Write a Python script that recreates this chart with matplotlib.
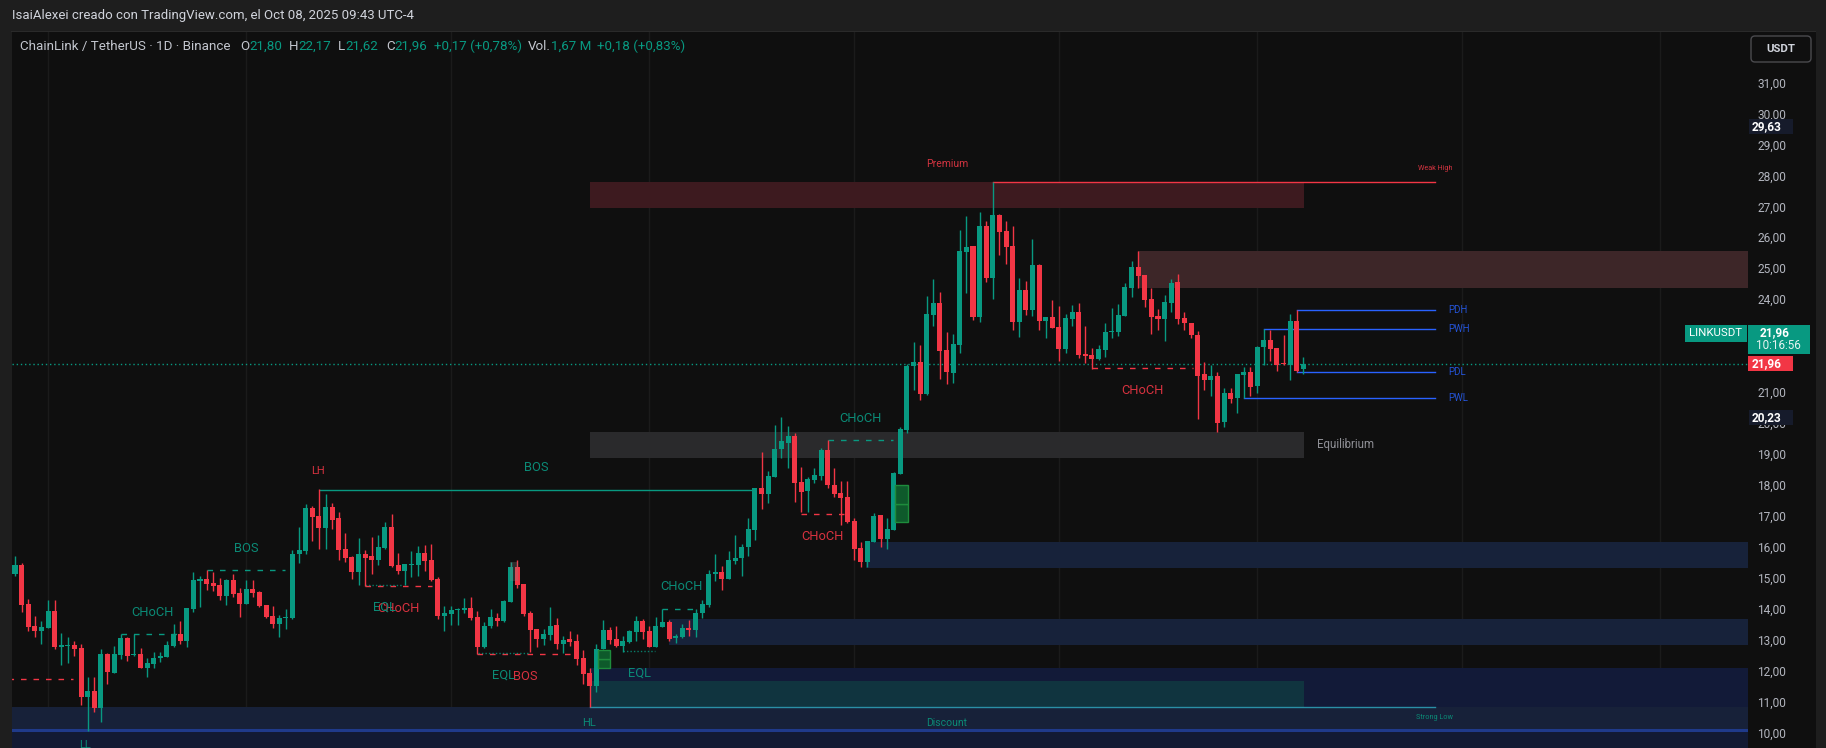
import matplotlib
matplotlib.use('Agg')
import matplotlib.pyplot as plt
from matplotlib.patches import Rectangle, FancyBboxPatch
import numpy as np

plt.rcParams['font.family'] = ['Roboto', 'DejaVu Sans']

# ---------------- data (daily candles, LINK/USDT) ----------------
opens = [15.17, 15.46, 14.20, 13.49, 13.34, 13.43, 13.97, 12.82, 12.83, 12.87,
         12.78, 11.20, 11.39, 10.85, 12.58, 11.98, 12.56, 13.10, 12.56, 12.58,
         12.14, 12.27, 12.47, 12.49, 12.85, 13.22, 13.00, 14.05, 14.95, 15.01,
         14.88, 14.81, 14.47, 14.97, 14.55, 14.21, 14.68, 14.59, 14.17, 13.81,
         13.56, 13.74, 13.74, 15.81, 15.92, 17.30, 17.04, 16.65, 17.33, 16.98,
         15.98, 15.72, 15.23, 15.81, 15.75, 15.62, 16.01, 16.69, 15.46, 15.27,
         15.46, 15.46, 15.85, 15.62, 15.01, 13.81, 13.87, 14.00, 14.02, 14.07,
         13.78, 12.82, 13.49, 13.75, 13.66, 14.27, 15.39, 14.85, 13.91, 13.39,
         13.07, 13.20, 13.52, 12.91, 13.07, 13.00, 12.45, 11.97, 11.55, 12.74,
         13.36, 13.07, 12.84, 12.97, 13.30, 13.65, 13.33, 12.81, 13.46, 13.62,
         13.09, 13.13, 13.42, 13.36, 13.90, 14.17, 15.17, 15.23, 15.01, 15.58,
         15.68, 16.04, 16.59, 17.95, 17.76, 18.30, 19.21, 19.40, 19.63, 18.15,
         17.86, 18.21, 18.33, 19.17, 18.04, 17.78, 17.66, 16.88, 16.01, 15.56,
         16.20, 17.07, 16.30, 16.59, 18.40, 19.82, 21.90, 22.02, 20.99, 23.54,
         23.92, 22.40, 21.67, 22.58, 25.58, 25.77, 23.48, 26.41, 24.74, 26.77,
         26.25, 25.77, 23.32, 24.34, 23.71, 25.15, 23.35, 23.47, 23.15, 22.45,
         23.42, 23.63, 22.29, 22.24, 22.11, 22.40, 23.00, 23.00, 23.52, 24.42,
         25.10, 24.84, 24.06, 23.51, 23.41, 23.94, 24.61, 23.45, 23.28, 22.89,
         21.63, 21.44, 21.57, 20.08, 21.02, 20.85, 21.60, 21.70, 21.24, 22.50,
         22.73, 22.47, 21.98, 21.92, 23.34, 21.80]
highs = [15.75, 15.51, 14.36, 13.81, 13.65, 14.33, 14.33, 13.25, 13.12, 13.00,
         12.90, 11.84, 11.84, 12.73, 12.60, 12.84, 13.22, 13.14, 13.22, 12.78,
         12.45, 12.65, 12.65, 12.99, 13.55, 13.65, 14.07, 15.23, 15.11, 15.29,
         15.23, 15.03, 15.02, 15.16, 14.71, 14.97, 14.97, 14.62, 14.17, 14.13,
         13.84, 14.04, 15.94, 16.69, 17.43, 17.37, 17.90, 17.75, 17.46, 17.17,
         16.49, 15.75, 16.33, 15.94, 16.36, 16.43, 16.85, 17.11, 15.85, 15.49,
         15.91, 16.07, 16.10, 16.14, 15.07, 14.13, 14.13, 14.07, 14.39, 14.42,
         13.97, 13.62, 14.04, 13.91, 14.33, 15.57, 15.62, 14.85, 13.97, 13.39,
         13.39, 14.11, 13.75, 13.17, 13.33, 13.23, 12.71, 12.13, 12.90, 13.68,
         13.46, 13.49, 13.17, 13.37, 13.81, 13.71, 13.49, 13.78, 14.04, 13.68,
         13.23, 13.55, 13.67, 14.03, 14.33, 15.30, 15.81, 15.43, 15.91, 16.43,
         16.14, 16.98, 17.95, 19.11, 18.50, 19.97, 20.24, 19.95, 19.72, 18.64,
         18.31, 18.58, 19.23, 19.50, 18.58, 18.18, 18.18, 16.97, 16.21, 16.24,
         17.13, 17.07, 16.97, 18.46, 19.93, 21.95, 22.66, 22.57, 24.15, 24.70,
         24.28, 22.99, 22.92, 26.28, 26.73, 25.77, 26.86, 26.57, 27.82, 26.80,
         26.57, 26.41, 24.73, 24.64, 25.99, 25.18, 23.47, 24.02, 23.83, 23.57,
         23.86, 23.92, 23.18, 22.47, 22.57, 23.28, 23.76, 23.89, 24.57, 25.28,
         25.60, 24.84, 24.42, 23.73, 24.18, 24.70, 24.86, 23.64, 23.28, 23.02,
         22.02, 21.92, 21.70, 21.18, 21.18, 21.63, 21.86, 21.86, 22.54, 23.08,
         23.05, 22.47, 22.89, 23.57, 23.70, 22.17]
lows = [15.11, 13.95, 13.34, 13.14, 12.92, 13.42, 12.75, 12.23, 12.30, 12.53,
        10.93, 10.10, 10.72, 10.40, 11.62, 11.98, 12.43, 12.36, 12.53, 12.14,
        11.85, 12.14, 12.34, 12.49, 12.82, 12.92, 12.82, 13.95, 14.11, 14.65,
        14.63, 14.33, 14.17, 14.43, 13.79, 14.21, 14.44, 14.11, 13.76, 13.43,
        13.14, 13.39, 13.72, 15.53, 15.81, 16.23, 15.98, 15.98, 16.62, 15.62,
        15.56, 15.01, 14.81, 14.78, 15.17, 15.46, 15.98, 15.39, 15.17, 14.81,
        15.07, 15.10, 15.27, 14.94, 13.71, 13.33, 13.52, 13.52, 13.91, 13.67,
        12.57, 12.79, 13.42, 13.49, 13.63, 14.27, 14.73, 13.81, 12.66, 12.80,
        12.87, 13.04, 12.75, 12.60, 12.84, 12.23, 11.61, 10.87, 11.37, 12.74,
        12.91, 12.81, 12.66, 12.94, 13.00, 13.07, 12.81, 12.81, 13.46, 13.00,
        12.94, 13.10, 13.17, 13.14, 13.74, 14.11, 14.95, 14.65, 15.01, 15.50,
        15.10, 15.75, 16.27, 17.28, 17.47, 18.30, 18.92, 18.59, 17.51, 17.18,
        17.18, 18.12, 18.21, 17.94, 17.67, 16.74, 16.80, 15.62, 15.38, 15.40,
        16.20, 16.05, 15.98, 16.59, 18.40, 19.73, 21.11, 20.79, 20.96, 23.18,
        21.47, 21.32, 21.35, 22.32, 24.26, 23.37, 23.32, 24.61, 24.06, 25.48,
        25.20, 23.06, 22.84, 23.55, 23.51, 23.06, 22.80, 23.13, 22.06, 22.32,
        23.18, 22.16, 22.00, 21.80, 22.08, 22.19, 22.80, 22.87, 23.52, 24.13,
        24.42, 23.80, 22.93, 23.05, 22.71, 23.64, 23.25, 23.05, 22.80, 20.19,
        21.11, 20.93, 19.76, 19.92, 20.69, 20.38, 20.85, 20.93, 21.03, 21.91,
        22.05, 21.74, 21.92, 21.44, 21.69, 21.62]
closes = [15.46, 14.17, 13.47, 13.34, 13.46, 13.97, 12.82, 12.86, 12.89, 12.76,
          11.20, 11.39, 10.85, 12.58, 12.01, 12.58, 13.10, 12.53, 12.59, 12.14,
          12.29, 12.47, 12.49, 12.86, 13.22, 13.00, 14.07, 14.97, 15.02, 14.86,
          14.78, 14.47, 14.97, 14.52, 14.21, 14.68, 14.56, 14.14, 13.79, 13.56,
          13.75, 13.76, 15.81, 15.94, 17.30, 17.01, 16.65, 17.33, 16.91, 15.94,
          15.68, 15.23, 15.81, 15.68, 15.62, 16.04, 16.69, 15.43, 15.27, 15.49,
          15.49, 15.85, 15.59, 14.97, 13.81, 13.91, 14.00, 14.04, 14.04, 13.76,
          12.82, 13.49, 13.78, 13.66, 14.30, 15.39, 14.81, 13.88, 13.36, 13.07,
          13.23, 13.49, 12.91, 13.04, 12.97, 12.43, 11.94, 11.55, 12.74, 13.36,
          13.04, 12.84, 13.00, 13.33, 13.65, 13.30, 12.81, 13.49, 13.62, 13.07,
          13.16, 13.42, 13.37, 13.90, 14.20, 15.17, 15.23, 15.01, 15.62, 15.68,
          16.04, 16.62, 17.95, 17.76, 18.33, 19.21, 19.47, 19.63, 18.12, 17.83,
          18.24, 18.37, 19.17, 18.04, 17.76, 17.63, 16.85, 15.98, 15.56, 16.23,
          17.04, 16.30, 16.62, 18.43, 19.85, 21.90, 22.02, 20.99, 23.57, 23.92,
          22.38, 21.70, 22.60, 25.60, 25.73, 23.48, 26.41, 24.74, 26.77, 26.23,
          25.73, 23.32, 24.34, 23.71, 25.15, 23.35, 23.47, 23.13, 22.45, 23.44,
          23.63, 22.24, 22.22, 22.13, 22.44, 22.99, 23.02, 23.54, 24.45, 25.10,
          24.81, 24.03, 23.48, 23.41, 23.97, 24.58, 23.41, 23.28, 22.89, 21.57,
          21.44, 21.57, 20.05, 21.02, 20.82, 21.63, 21.70, 21.21, 22.50, 22.73,
          22.44, 21.91, 21.96, 23.34, 21.73, 21.96]

price_ticks = list(range(10, 32))

# market structure events (bar index start/end, level, direction)
struct_labels = ["CHoCH", "BOS", "BOS", "CHoCH", "BOS", "CHoCH", "CHoCH", "CHoCH", "CHoCH"]
struct_start = [16.1, 29.1, 46.1, 53.0, 70.0, 98.0, 119.0, 123.0, 163.0]
struct_end = [25.6, 40.9, 111.8, 63.1, 84.5, 103.7, 125.4, 132.9, 178.3]
struct_level = [13.22, 15.29, 17.89, 14.78, 12.57, 14.03, 17.10, 19.49, 21.81]
struct_bull = [True, True, True, False, False, True, False, True, False]
struct_solid = [False, False, True, False, False, False, False, False, False]

# equal lows
eql_start = [53.0, 70.1, 92.1]
eql_end = [58.8, 77.9, 96.9]
eql_level = [14.81, 12.62, 12.67]

# previous day / week levels
pdw_names = ["PDH", "PWH", "PDL", "PWL"]
pdw_start = [194.0, 189.0, 194.0, 186.0]
pdw_level = [23.69, 23.07, 21.69, 20.84]

# swing extremes / zones
top_start, top_level = 148, 27.82       # weak high
bottom_start, bottom_level = 87, 10.87  # strong low
eq_low, eq_high = 18.93, 19.77
premium_low = 26.98
discount_high = 11.71
supply_start, supply_low, supply_high = 170.0, 24.42, 25.62
demand1_start, demand1_low, demand1_high = 128.8, 15.37, 16.20
demand2_start, demand2_low, demand2_high = 99.0, 12.88, 13.71
demand3_start, demand3_low, demand3_high = 87.0, 10.87, 12.14
old_zone_low, old_zone_high = 10.13, 10.87
old_eqh_end, old_eqh_level = 8.8, 11.77
ob_boxes = [(88.3, 90.1, 12.14, 12.42), (88.3, 90.1, 12.42, 12.71),
            (133.2, 135.2, 16.86, 17.43), (133.2, 135.2, 17.43, 18.04)]
month_bars = [5, 35, 66, 96, 127, 158, 188, 219, 249]

last_price = 21.96
tag_high, tag_low = 29.63, 20.23

# ---------------- style ----------------
GREEN = '#089981'
RED = '#f23645'
BG = '#0f0f0f'
FRAME = '#1e1e1e'
TXT_TEAL = '#0b8a76'
TXT_RED = '#d8323f'
BLUE = '#2962ff'

W, H = 1826, 748
fig = plt.figure(figsize=(W / 100, H / 100), dpi=100, facecolor=FRAME)

# price <-> pixel mapping for the chart panel
Y0_PX, Y1_PX = 32, 748
YMIN, YMAX = 9.546, 32.68
def py(p):
    return Y0_PX + (YMAX - p) / (YMAX - YMIN) * (Y1_PX - Y0_PX)

ax = fig.add_axes([12 / W, 0, (1748 - 12) / W, (Y1_PX - Y0_PX) / H])
ax.set_facecolor(BG)
ax.set_xlim(-0.454, 262.3)
ax.set_ylim(YMIN, YMAX)
for s in ax.spines.values():
    s.set_visible(False)
ax.set_xticks([])
ax.set_yticks([])

n = len(opens)
xs = np.arange(n)
o = np.array(opens); h = np.array(highs); l = np.array(lows); c = np.array(closes)
XR = ax.get_xlim()[1]

# month grid
for m in month_bars:
    ax.axvline(m, color='#1b1b1b', lw=1.0, zorder=0)

def zone(x0, x1, y0, y1, color, z=1, alpha=1.0):
    ax.add_patch(Rectangle((x0, y0), x1 - x0, y1 - y0, facecolor=color, edgecolor='none',
                           zorder=z, alpha=alpha))

last_i = n - 1
zone_end = last_i + 0.1
# bottom legacy zone (full width)
zone(-1, XR + 1, YMIN - 1, old_zone_low, '#121a33', 0.5)
zone(-1, XR + 1, old_zone_low, old_zone_high, '#172139', 0.5)
ax.plot([-1, XR + 1], [old_zone_low, old_zone_low], color='#1f3a8a', lw=2.2, zorder=0.6)
# demand zones
zone(demand3_start, XR + 1, demand3_low, demand3_high, '#121a38', 0.7)
zone(demand2_start, XR + 1, demand2_low, demand2_high, '#17223a', 0.7)
zone(demand1_start, XR + 1, demand1_low, demand1_high, '#17223a', 0.7)
# supply zone
zone(supply_start, XR + 1, supply_low, supply_high, '#3d2628', 0.7)
# premium / equilibrium / discount
zone(bottom_start, zone_end, premium_low, top_level, '#3d1a1f', 0.8)
zone(bottom_start, zone_end, eq_low, eq_high, '#2a2a2c', 0.8)
zone(bottom_start, zone_end, bottom_level, discount_high, '#10343f', 0.8)

line_end = 214.9
ax.plot([top_start, line_end], [top_level, top_level], color=RED, lw=1.0, zorder=3)
ax.plot([bottom_start, line_end], [bottom_level, bottom_level], color='#2a8fa6', lw=1.0, zorder=3)

# old equal-high dashed line at left
ax.plot([-1, old_eqh_end], [old_eqh_level] * 2, color=RED, lw=1.0, ls=(0, (4, 5)), zorder=3)

# structure lines + labels
for lab, x0, x1, lev, bull, solid in zip(struct_labels, struct_start, struct_end,
                                         struct_level, struct_bull, struct_solid):
    col = GREEN if bull else RED
    ax.plot([x0, x1], [lev, lev], color=col, lw=1.0,
            ls='-' if solid else (0, (4, 5)), zorder=3)
    ax.annotate(lab, xy=((x0 + x1) / 2, lev), xytext=(0, 16 if bull else -16),
                textcoords='offset points', ha='center', va='center',
                color=TXT_TEAL if bull else TXT_RED, fontsize=9.3, zorder=8)

for x0, x1, lev in zip(eql_start, eql_end, eql_level):
    ax.plot([x0, x1], [lev, lev], color=GREEN, lw=1.0, ls=(0, (1, 1.5)), zorder=3, alpha=0.8)
    ax.annotate("EQL", xy=((x0 + x1) / 2, lev), xytext=(0, -16), textcoords='offset points',
                ha='center', va='center', color=TXT_TEAL, fontsize=9.3, zorder=8)

# previous day/week levels
for nm, x0, lev in zip(pdw_names, pdw_start, pdw_level):
    ax.plot([x0, line_end], [lev, lev], color=BLUE, lw=1.0, zorder=3)
    ax.text(217.0, lev, nm, color='#2453d6', fontsize=7, ha='left', va='center', zorder=8)

# current price dotted line
ax.axhline(last_price, color=GREEN, lw=1.0, ls=(0, (1, 2)), zorder=2)

# order-block boxes
for x0, x1, y0, y1 in ob_boxes:
    ax.add_patch(Rectangle((x0, y0), x1 - x0, y1 - y0, facecolor='#0e5a2b',
                           edgecolor='#1e8c3c', lw=1.0, zorder=7))
ax.add_patch(Rectangle((74.9, 14.94), 1.3, 0.63, facecolor='#8a8a8a', alpha=0.25,
                       edgecolor='none', zorder=7))

# candles
up = c >= o
cols = np.where(up, GREEN, RED)
ax.vlines(xs, l, h, colors=cols, lw=1.0, zorder=5)
ax.bar(xs, np.maximum(np.abs(c - o), 0.035), bottom=np.minimum(o, c), width=0.76,
       color=cols, linewidth=0, zorder=6)

# zone labels
mid = (bottom_start + zone_end) / 2
ax.text(mid, top_level + 0.6, "Premium", color='#d23440', fontsize=7.5, ha='center', va='center', zorder=8)
ax.text(mid, bottom_level - 0.52, "Discount", color=TXT_TEAL, fontsize=7.5, ha='center', va='center', zorder=8)
ax.text(zone_end + 1.9, (eq_low + eq_high) / 2, "Equilibrium", color='#8f9096', fontsize=8.3,
        ha='left', va='center', zorder=8)
ax.text(line_end, top_level + 0.45, "Weak High", color='#d23440', fontsize=5.2, ha='center', va='center', zorder=8)
ax.text(line_end, bottom_level - 0.35, "Strong Low", color=TXT_TEAL, fontsize=5.2, ha='center', va='center', zorder=8)
ax.text(45.85, highs[46] + 0.6, "LH", color=TXT_RED, fontsize=8, ha='center', va='center', zorder=8)
ax.text(86.9, lows[87] - 0.52, "HL", color=TXT_TEAL, fontsize=8, ha='center', va='center', zorder=8)
ax.text(10.6, lows[11] - 0.45, "LL", color=TXT_TEAL, fontsize=8, ha='center', va='center', zorder=8)

# ---------------- overlay (header, legend, price scale) ----------------
ov = fig.add_axes([0, 0, 1, 1], zorder=10)
ov.set_xlim(0, W)
ov.set_ylim(H, 0)
ov.axis('off')
ov.patch.set_alpha(0)

# price-scale background
ov.add_patch(Rectangle((1748, Y0_PX), 1816 - 1748, H - Y0_PX, facecolor=BG, edgecolor='none', zorder=0))
ov.add_patch(Rectangle((11, Y0_PX - 1), 1816 - 11, 1, facecolor='#2a2a2a', edgecolor='none', zorder=0))

ov.text(12, 15, "IsaiAlexei creado con TradingView.com, el Oct 08, 2025 09:43 UTC-4",
        color='#d1d4dc', fontsize=9.5, ha='left', va='center')

leg_y = 46.5
LBL = '#c3c6ce'
ov.text(20, leg_y, "ChainLink / TetherUS · 1D · Binance", color=LBL, fontsize=9.6, ha='left', va='center')
pieces = [(240, "O", LBL), (249, "21,80", GREEN), (289, "H", LBL), (298, "22,17", GREEN),
          (338, "L", LBL), (345, "21,62", GREEN), (386, "C", LBL), (394, "21,96", GREEN),
          (434, "+0,17 (+0,78%)", GREEN), (528, "Vol.", LBL), (551, "1,67 M", GREEN),
          (597, "+0,18 (+0,83%)", GREEN)]
for xp, t, col in pieces:
    ov.text(xp, leg_y, t, color=col, fontsize=9.6, ha='left', va='center')

# USDT box
ov.add_patch(FancyBboxPatch((1751, 36), 60, 26, boxstyle="round,pad=0,rounding_size=4",
                            facecolor=BG, edgecolor='#4a4a4e', lw=1.0))
ov.text(1781, 49, "USDT", color='#d1d4dc', fontsize=8.2, ha='center', va='center', fontweight='bold')

# green symbol tag position (above the last-price tag)
gy1 = py(last_price) - 10
green_top = gy1 - 29

for p in price_ticks:
    yp = py(p)
    if green_top - 4 < yp < py(last_price) + 8:
        continue  # hidden under the price tags
    ov.text(1772, yp, f"{p},00", color='#b2b5be', fontsize=8.6, ha='center', va='center')

def tag(x0, x1, p, face, text, bold=True, tc='white'):
    yc = py(p)
    ov.add_patch(Rectangle((x0, yc - 7.5), x1 - x0, 15, facecolor=face, edgecolor='none', zorder=3))
    ov.text((x0 + x1) / 2 - 4, yc, text, color=tc, fontsize=8.6, ha='center', va='center',
            fontweight='bold' if bold else 'normal', zorder=4)

tag(1749, 1793, tag_high, '#161b2b', "29,63")
tag(1749, 1793, tag_low, '#161b2b', "20,23")
# red last-price tag
tag(1748, 1793, last_price, RED, "21,96")
# green symbol tag with countdown
ov.add_patch(Rectangle((1748, green_top), 62, 29, facecolor=GREEN, edgecolor='none', zorder=3))
ov.text(1775, gy1 - 21, "21,96", color='white', fontsize=8.6, fontweight='bold', ha='center', va='center', zorder=4)
ov.text(1778, gy1 - 8, "10:16:56", color='#e6f4f1', fontsize=8.4, ha='center', va='center', zorder=4)
ov.add_patch(Rectangle((1685, green_top), 62, 17, facecolor=GREEN, edgecolor='none', zorder=3))
ov.text(1716, gy1 - 20.5, "LINKUSDT", color='white', fontsize=8.2, ha='center', va='center', zorder=4)

fig.savefig('out.png', dpi=100, facecolor=FRAME)
